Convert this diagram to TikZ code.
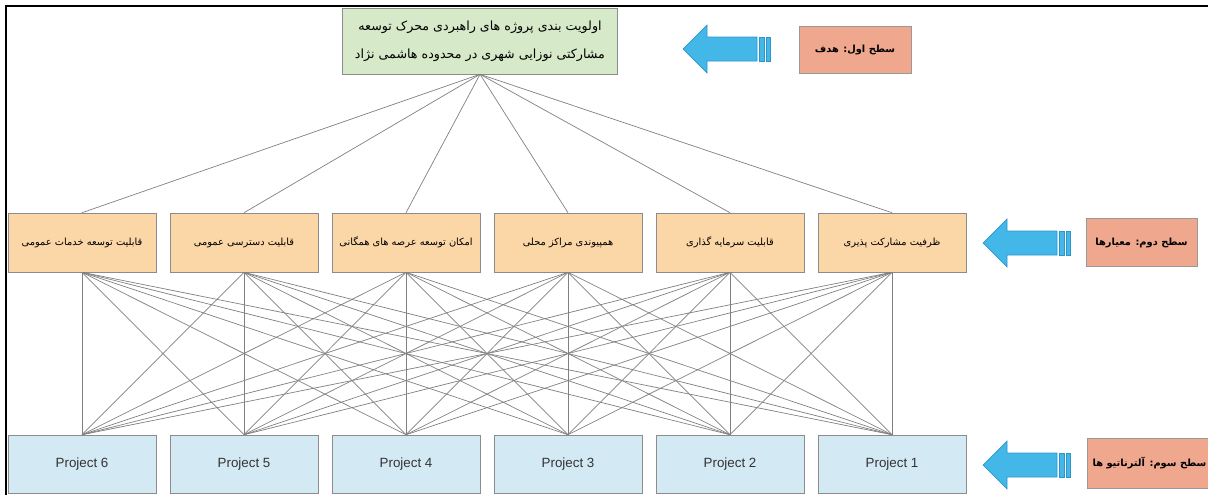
\documentclass[tikz,border=0pt]{standalone}
\usepackage{fontspec}
\setmainfont{Liberation Sans}
\newfontfamily\farsi[Script=Arabic]{DejaVu Sans}
\TeXXeTstate=1
\usepackage{xcolor}
\usetikzlibrary{calc,positioning}

\definecolor{goalfill}{HTML}{D6E9C9}
\definecolor{critfill}{HTML}{FBD6A6}
\definecolor{projfill}{HTML}{D3EAF5}
\definecolor{lvlfill}{HTML}{EFA88E}
\definecolor{arrowfill}{HTML}{42B7E8}
\definecolor{arrowline}{HTML}{2C96C8}

\begin{document}
\begin{tikzpicture}[
      x=0.025cm, y=-0.025cm,
      goalbox/.style={draw=black!45, fill=goalfill, align=center, inner sep=0pt,
        minimum width=6.875cm, minimum height=1.65cm,
        font=\farsi\fontsize{9}{20}\selectfont},
      critbox/.style={draw=black!45, fill=critfill, inner sep=0pt,
        minimum width=3.7cm, minimum height=1.475cm,
        font=\farsi\fontsize{7}{9}\selectfont},
      projbox/.style={draw=black!45, fill=projfill, inner sep=0pt,
        minimum width=3.7cm, minimum height=1.45cm,
        font=\fontsize{9.5}{12}\selectfont, text=black!80},
      lvlbox/.style={draw=black!40, fill=lvlfill, inner sep=0pt,
        minimum height=1.2cm, font=\farsi\bfseries\fontsize{7}{9}\selectfont},
      link/.style={draw=black!50, line width=0.5pt},
      blockarrow/.style={draw=arrowline, fill=arrowfill, line width=0.5pt},
    ]
    \useasboundingbox (0,0) rectangle (1208,495);
    % frame
    \draw[line width=1.5pt] (6,495) -- (6,6) -- (1208,6);

    % level 1: goal
    \node[goalbox] (goal) at (480,41) {%
      \beginR اولویت بندی پروژه های راهبردی محرک توسعه\endR\\
      \beginR مشارکتی نوزایی شهری در محدوده هاشمی نژاد\endR};

    % level 2: criteria
    \foreach \i/\txt in {1/قابلیت توسعه خدمات عمومی,
                         2/قابلیت دسترسی عمومی,
                         3/امکان توسعه عرصه های همگانی,
                         4/همپیوندی مراکز محلی,
                         5/قابلیت سرمایه گذاری,
                         6/ظرفیت مشارکت پذیری}
      \node[critbox] (c\i) at ({82+162*(\i-1)},242.5) {\beginR\txt\endR};

    % level 3: alternatives
    \foreach \i/\n in {1/6, 2/5, 3/4, 4/3, 5/2, 6/1}
      \node[projbox] (p\i) at ({82+162*(\i-1)},464) {Project \n};

    % links
    \foreach \i in {1,...,6}
      \draw[link] (goal.south) -- (c\i.north);
    \foreach \i in {1,...,6}
      \foreach \j in {1,...,6}
        \draw[link] (c\i.south) -- (p\j.north);

    % level labels
    \node[lvlbox, minimum width=2.8cm, minimum height=1.175cm] (lvlgoal) at (855,49.5)
      {\beginR سطح اول: هدف\endR};
    \node[lvlbox, minimum width=2.775cm] (lvlcrit) at (1141.5,242.5)
      {\beginR سطح دوم: معیارها\endR};
    \node[lvlbox, minimum width=3.125cm, minimum height=1.25cm] (lvlalt) at (1149.5,463)
      {\beginR سطح سوم: آلترناتیو ها\endR};

    % arrows
    \foreach \tx/\ty in {683/49, 983/243, 983/465} {
      \draw[blockarrow] (\tx,\ty) -- ++(24,-24) -- ++(0,12) -- ++(50,0)
        -- ++(0,24) -- ++(-50,0) -- ++(0,12) -- cycle;
      \draw[blockarrow] (\tx+76,\ty-12) rectangle ++(5,24);
      \draw[blockarrow] (\tx+83,\ty-12) rectangle ++(4,24);
    }
  \end{tikzpicture}
\end{document}
